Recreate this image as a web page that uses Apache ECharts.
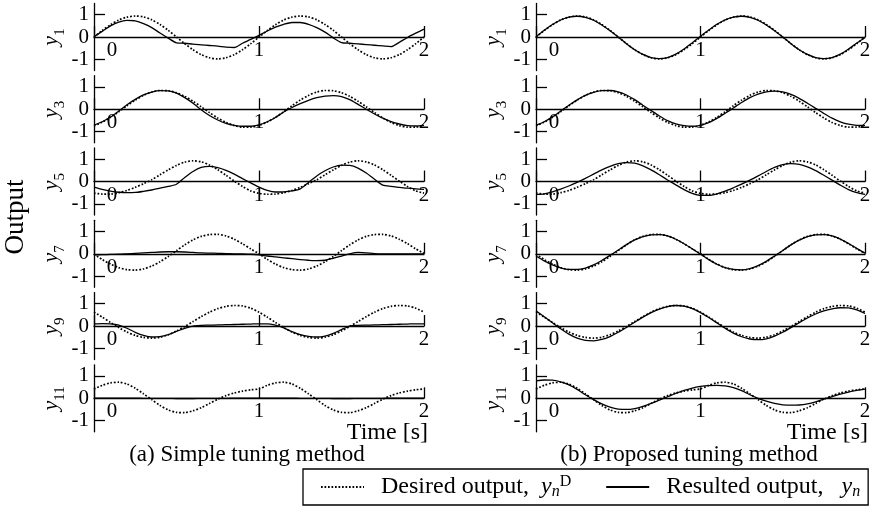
<!DOCTYPE html>
<html>
<head>
<meta charset="utf-8">
<script src="https://cdn.jsdelivr.net/npm/echarts@6/dist/echarts.min.js"></script>
<style>
  html, body { margin: 0; padding: 0; background: #fff; }
  #chart { width: 876px; height: 509px; }
</style>
</head>
<body>
<div id="chart"></div>
<script>
// time axis [s]
var TIME = [0, 0.05, 0.1, 0.15, 0.2, 0.25, 0.3, 0.35, 0.4, 0.45, 0.5, 0.55, 0.6, 0.65, 0.7, 0.75, 0.8, 0.85, 0.9, 0.95, 1,
  1.05, 1.1, 1.15, 1.2, 1.25, 1.3, 1.35, 1.4, 1.45, 1.5, 1.55, 1.6, 1.65, 1.7, 1.75, 1.8, 1.85, 1.9, 1.95, 2];

var outputIndex = ['1', '3', '5', '7', '9', '11'];

// desired outputs y_n^D (same for both methods)
var desired1 = [0, 0.29, 0.55, 0.76, 0.89, 0.94, 0.90, 0.77, 0.56, 0.30, 0.00, -0.30, -0.57, -0.79, -0.93, -0.98, -0.93, -0.79, -0.57, -0.30, 0.00,
  0.29, 0.55, 0.76, 0.89, 0.94, 0.90, 0.77, 0.56, 0.30, 0.00, -0.30, -0.57, -0.79, -0.93, -0.98, -0.93, -0.79, -0.57, -0.30, 0.00];
var desired3 = [-0.74, -0.58, -0.36, -0.11, 0.16, 0.41, 0.62, 0.77, 0.84, 0.83, 0.74, 0.58, 0.36, 0.11, -0.15, -0.39, -0.59, -0.73, -0.80, -0.80, -0.72,
  -0.57, -0.36, -0.11, 0.16, 0.41, 0.62, 0.77, 0.84, 0.83, 0.74, 0.58, 0.36, 0.11, -0.15, -0.39, -0.59, -0.73, -0.80, -0.80, -0.72];
var desired5 = [-0.52, -0.56, -0.56, -0.50, -0.40, -0.26, -0.10, 0.08, 0.30, 0.52, 0.72, 0.87, 0.93, 0.88, 0.74, 0.53, 0.28, 0.02, -0.22, -0.42, -0.53,
  -0.57, -0.56, -0.50, -0.40, -0.26, -0.10, 0.08, 0.30, 0.52, 0.72, 0.87, 0.93, 0.88, 0.74, 0.53, 0.28, 0.02, -0.22, -0.42, -0.52];
var desired7 = [-0.02, -0.26, -0.46, -0.62, -0.71, -0.73, -0.68, -0.55, -0.36, -0.12, 0.14, 0.40, 0.62, 0.78, 0.86, 0.87, 0.80, 0.65, 0.45, 0.22, 0.00,
  -0.25, -0.46, -0.62, -0.71, -0.73, -0.68, -0.55, -0.36, -0.12, 0.14, 0.40, 0.62, 0.78, 0.86, 0.87, 0.80, 0.65, 0.45, 0.22, 0.02];
var desired9 = [0.62, 0.40, 0.16, -0.07, -0.27, -0.42, -0.51, -0.54, -0.50, -0.39, -0.22, -0.02, 0.20, 0.42, 0.62, 0.78, 0.88, 0.92, 0.90, 0.80, 0.62,
  0.40, 0.16, -0.07, -0.27, -0.42, -0.51, -0.54, -0.50, -0.39, -0.22, -0.02, 0.20, 0.42, 0.62, 0.78, 0.88, 0.92, 0.90, 0.80, 0.62];
var desired11 = [0.42, 0.58, 0.69, 0.72, 0.64, 0.45, 0.20, -0.06, -0.32, -0.52, -0.63, -0.64, -0.56, -0.42, -0.23, -0.04, 0.12, 0.24, 0.32, 0.38, 0.42,
  0.58, 0.69, 0.72, 0.64, 0.45, 0.20, -0.06, -0.32, -0.52, -0.63, -0.64, -0.56, -0.42, -0.23, -0.04, 0.12, 0.24, 0.32, 0.38, 0.42];

// resulted outputs y_n, (a) simple tuning method
var simple1 = [0.02, 0.25, 0.50, 0.67, 0.74, 0.72, 0.60, 0.42, 0.18, -0.05, -0.26, -0.28, -0.32, -0.35, -0.38, -0.41, -0.45, -0.47, -0.28, -0.11, 0.07,
  0.27, 0.44, 0.57, 0.65, 0.65, 0.57, 0.42, 0.22, -0.04, -0.25, -0.28, -0.31, -0.34, -0.37, -0.40, -0.43, -0.24, -0.02, 0.17, 0.35];
var simple3 = [-0.71, -0.56, -0.35, -0.08, 0.20, 0.44, 0.64, 0.77, 0.83, 0.82, 0.72, 0.52, 0.27, -0.02, -0.28, -0.48, -0.63, -0.72, -0.76, -0.76, -0.70,
  -0.56, -0.37, -0.12, 0.08, 0.25, 0.40, 0.52, 0.59, 0.61, 0.57, 0.43, 0.22, 0.00, -0.21, -0.40, -0.55, -0.66, -0.73, -0.75, -0.72];
var simple5 = [-0.25, -0.35, -0.43, -0.48, -0.50, -0.49, -0.44, -0.38, -0.30, -0.22, -0.12, 0.18, 0.45, 0.63, 0.68, 0.62, 0.50, 0.33, 0.13, -0.06, -0.25,
  -0.40, -0.47, -0.46, -0.42, -0.33, -0.04, 0.25, 0.48, 0.65, 0.73, 0.72, 0.60, 0.38, 0.10, -0.16, -0.22, -0.26, -0.30, -0.33, -0.35];
var simple7 = [-0.05, -0.04, -0.03, -0.02, 0.00, 0.02, 0.04, 0.06, 0.08, 0.09, 0.09, 0.08, 0.06, 0.04, 0.03, 0.02, 0.01, 0.00, 0.00, -0.02, -0.05,
  -0.10, -0.14, -0.18, -0.22, -0.26, -0.29, -0.31, -0.29, -0.20, -0.10, 0.00, 0.06, 0.04, 0.01, 0.00, 0.00, 0.00, 0.00, 0.00, 0.00];
var simple9 = [0.10, 0.11, 0.10, 0.04, -0.10, -0.28, -0.42, -0.49, -0.47, -0.38, -0.24, -0.10, 0.00, 0.03, 0.04, 0.05, 0.06, 0.07, 0.08, 0.09, 0.10,
  0.10, 0.04, -0.08, -0.25, -0.38, -0.46, -0.49, -0.45, -0.33, -0.16, 0.00, 0.03, 0.04, 0.05, 0.06, 0.07, 0.08, 0.09, 0.10, 0.10];
var simple11 = [0.01, 0.01, 0.01, 0.01, 0.01, 0.01, 0.00, 0.00, 0.00, 0.00, -0.01, -0.01, -0.01, 0.00, 0.00, 0.00, 0.00, 0.01, 0.01, 0.01, 0.01,
  0.01, 0.01, 0.01, 0.01, 0.00, 0.00, 0.00, 0.00, -0.01, -0.01, -0.01, 0.00, 0.00, 0.00, 0.00, 0.01, 0.01, 0.01, 0.01, 0.01];

// resulted outputs y_n, (b) proposed tuning method
var proposed1 = [0.01, 0.30, 0.56, 0.76, 0.89, 0.93, 0.88, 0.75, 0.54, 0.28, 0.00, -0.30, -0.57, -0.78, -0.92, -0.97, -0.92, -0.77, -0.54, -0.26, 0.03,
  0.31, 0.57, 0.77, 0.89, 0.93, 0.88, 0.75, 0.54, 0.28, 0.00, -0.30, -0.57, -0.78, -0.92, -0.97, -0.92, -0.77, -0.54, -0.27, -0.02];
var proposed3 = [-0.72, -0.56, -0.34, -0.08, 0.18, 0.42, 0.62, 0.76, 0.83, 0.84, 0.78, 0.64, 0.43, 0.18, -0.06, -0.30, -0.51, -0.65, -0.73, -0.76, -0.72,
  -0.60, -0.41, -0.18, 0.06, 0.30, 0.52, 0.68, 0.78, 0.81, 0.78, 0.67, 0.49, 0.27, 0.04, -0.19, -0.40, -0.56, -0.67, -0.72, -0.72];
var proposed5 = [-0.58, -0.55, -0.46, -0.34, -0.20, -0.04, 0.14, 0.33, 0.52, 0.68, 0.80, 0.85, 0.82, 0.70, 0.52, 0.30, 0.07, -0.15, -0.36, -0.53, -0.62,
  -0.62, -0.55, -0.43, -0.28, -0.12, 0.06, 0.25, 0.45, 0.63, 0.76, 0.80, 0.77, 0.66, 0.49, 0.28, 0.06, -0.16, -0.36, -0.50, -0.58];
var proposed7 = [-0.10, -0.32, -0.50, -0.63, -0.70, -0.70, -0.64, -0.50, -0.30, -0.07, 0.17, 0.41, 0.62, 0.77, 0.85, 0.86, 0.80, 0.65, 0.45, 0.22, -0.02,
  -0.26, -0.47, -0.62, -0.70, -0.72, -0.66, -0.53, -0.34, -0.10, 0.15, 0.40, 0.61, 0.77, 0.85, 0.86, 0.80, 0.66, 0.46, 0.24, 0.03];
var proposed9 = [0.68, 0.42, 0.15, -0.12, -0.36, -0.54, -0.64, -0.66, -0.60, -0.47, -0.28, -0.06, 0.17, 0.40, 0.60, 0.76, 0.87, 0.92, 0.89, 0.78, 0.60,
  0.38, 0.14, -0.10, -0.32, -0.48, -0.58, -0.61, -0.57, -0.45, -0.28, -0.07, 0.15, 0.36, 0.54, 0.68, 0.77, 0.82, 0.81, 0.72, 0.56];
var proposed11 = [0.78, 0.82, 0.81, 0.74, 0.60, 0.40, 0.16, -0.06, -0.25, -0.39, -0.48, -0.50, -0.46, -0.36, -0.23, -0.08, 0.07, 0.22, 0.35, 0.46, 0.53,
  0.57, 0.58, 0.56, 0.48, 0.34, 0.16, 0.00, -0.13, -0.23, -0.29, -0.31, -0.30, -0.25, -0.16, -0.04, 0.08, 0.19, 0.28, 0.35, 0.41];

var desired = [desired1, desired3, desired5, desired7, desired9, desired11];
var resulted = [
  [simple1, simple3, simple5, simple7, simple9, simple11],
  [proposed1, proposed3, proposed5, proposed7, proposed9, proposed11]
];

var SERIF = '"Liberation Serif", "Times New Roman", Times, serif';
var BLACK = '#000';

var chartDom = document.getElementById('chart');
var chart = echarts.init(chartDom, null, { renderer: 'canvas' });

function pairs(vals) {
  return vals.map(function (v, i) { return [TIME[i], v]; });
}

var colLeft = [94, 536];
var colWidth = [330, 329];
var grids = [], xAxes = [], yAxes = [], series = [];

for (var c = 0; c < 2; c++) {
  for (var r = 0; r < 6; r++) {
    var idx = c * 6 + r;
    grids.push({
      left: colLeft[c],
      top: 3.5 + r * 72.26,
      width: colWidth[c],
      height: 67,
      outerBoundsMode: 'none'
    });
    // time axis drawn through y = 0 (middle of the -1.5..1.5 range)
    xAxes.push({
      gridIndex: idx,
      type: 'value',
      min: 0,
      max: 2,
      interval: 1,
      position: 'bottom',
      offset: -33.5,
      axisLine: { show: true, onZero: false, lineStyle: { color: BLACK, width: 1.3 } },
      axisTick: { show: true, inside: true, length: 11, lineStyle: { color: BLACK, width: 1.3 } },
      axisLabel: {
        margin: 3,
        color: BLACK,
        fontSize: 21,
        fontFamily: SERIF,
        formatter: function (v) { return v === 0 ? '{z|0}' : String(v); },
        rich: { z: { padding: [0, 0, 0, 36], fontSize: 21, fontFamily: SERIF, color: BLACK } }
      },
      splitLine: { show: false }
    });
    yAxes.push({
      gridIndex: idx,
      type: 'value',
      min: -1.5,
      max: 1.5,
      axisLine: { show: true, onZero: false, lineStyle: { color: BLACK, width: 1.3 } },
      axisTick: { show: true, inside: true, length: 11, customValues: [-1, 1], lineStyle: { color: BLACK, width: 1.3 } },
      axisLabel: { customValues: [-1, 0, 1], margin: 5, color: BLACK, fontSize: 21, fontFamily: SERIF },
      splitLine: { show: false },
      name: '{v|y}{s|' + outputIndex[r] + '}',
      nameLocation: 'middle',
      nameRotate: 90,
      nameGap: 31,
      nameTextStyle: {
        rich: {
          v: { fontFamily: SERIF, fontStyle: 'italic', fontSize: 22, lineHeight: 22, verticalAlign: 'top', color: BLACK },
          s: { fontFamily: SERIF, fontSize: 15, lineHeight: 15, padding: [12, 0, 0, 0], verticalAlign: 'top', color: BLACK }
        }
      }
    });
    series.push({
      name: 'Desired output',
      type: 'line',
      xAxisIndex: idx,
      yAxisIndex: idx,
      data: pairs(desired[r]),
      symbol: 'none',
      smooth: 0.25,
      silent: true,
      itemStyle: { color: BLACK },
      lineStyle: { color: BLACK, width: 1.7, type: [1.7, 1.8] }
    });
    series.push({
      name: 'Resulted output',
      type: 'line',
      xAxisIndex: idx,
      yAxisIndex: idx,
      data: pairs(resulted[c][r]),
      symbol: 'none',
      smooth: 0.25,
      silent: true,
      itemStyle: { color: BLACK },
      lineStyle: { color: BLACK, width: 1.3, type: 'solid' }
    });
  }
}

var option = {
  backgroundColor: '#fff',
  animation: false,
  grid: grids,
  xAxis: xAxes,
  yAxis: yAxes,
  series: series,
  legend: {
    left: 303,
    top: 469,
    width: 700,
    padding: [5, 8, 5, 17],
    itemGap: 34,
    itemWidth: 43,
    itemHeight: 14,
    borderColor: BLACK,
    borderWidth: 1.3,
    borderRadius: 0,
    selectedMode: false,
    itemStyle: { opacity: 0, borderWidth: 0 },
    data: ['Desired output', 'Resulted output'],
    formatter: function (name) {
      if (name === 'Desired output') {
        return '  Desired output,  {i|y}{n|n}{d|D}';
      }
      return '  Resulted output,   {i|y}{n|n}';
    },
    textStyle: {
      color: BLACK,
      fontSize: 24,
      lineHeight: 26,
      fontFamily: SERIF,
      rich: {
        i: { fontFamily: SERIF, fontStyle: 'italic', fontSize: 24, lineHeight: 26, color: BLACK },
        n: { fontFamily: SERIF, fontStyle: 'italic', fontSize: 16, lineHeight: 16, verticalAlign: 'bottom', color: BLACK },
        d: { fontFamily: SERIF, fontSize: 16, lineHeight: 16, verticalAlign: 'top', color: BLACK }
      }
    }
  },
  graphic: [
    {
      type: 'text', x: 16, y: 217, rotation: Math.PI / 2,
      style: { text: 'Output', fill: BLACK, font: '27px ' + SERIF, textAlign: 'center', textVerticalAlign: 'middle' }
    },
    {
      type: 'text', x: 428, y: 433,
      style: { text: 'Time [s]', fill: BLACK, font: '24px ' + SERIF, textAlign: 'right', textVerticalAlign: 'middle' }
    },
    {
      type: 'text', x: 868, y: 433,
      style: { text: 'Time [s]', fill: BLACK, font: '24px ' + SERIF, textAlign: 'right', textVerticalAlign: 'middle' }
    },
    {
      type: 'text', x: 247, y: 455,
      style: { text: '(a) Simple tuning method', fill: BLACK, font: '23px ' + SERIF, textAlign: 'center', textVerticalAlign: 'middle' }
    },
    {
      type: 'text', x: 689, y: 455,
      style: { text: '(b) Proposed tuning method', fill: BLACK, font: '23px ' + SERIF, textAlign: 'center', textVerticalAlign: 'middle' }
    }
  ]
};

chart.setOption(option);
</script>
</body>
</html>
